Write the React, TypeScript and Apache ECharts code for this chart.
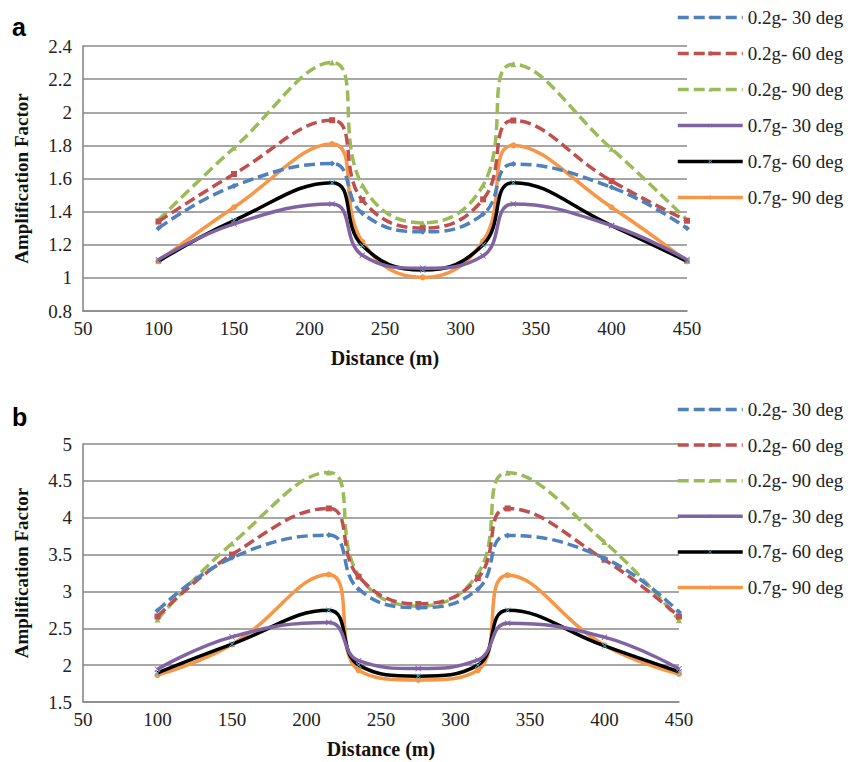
import React, { useEffect, useRef } from "react";
import * as echarts from "echarts";

const distances = [100, 150, 215, 235, 275, 315, 335, 400, 450];
const seriesNames = [
  "0.2g- 30 deg",
  "0.2g- 60 deg",
  "0.2g- 90 deg",
  "0.7g- 30 deg",
  "0.7g- 60 deg",
  "0.7g- 90 deg",
];

// Panel a
const a02g30 = [1.3, 1.555, 1.69, 1.39, 1.278, 1.385, 1.687, 1.547, 1.3];
const a02g60 = [1.34, 1.627, 1.952, 1.47, 1.3, 1.474, 1.95, 1.585, 1.345];
const a02g90 = [1.35, 1.785, 2.3, 1.56, 1.332, 1.56, 2.29, 1.78, 1.35];
const a07g30 = [1.11, 1.326, 1.446, 1.137, 1.058, 1.133, 1.446, 1.316, 1.11];
const a07g60 = [1.1, 1.346, 1.575, 1.195, 1.047, 1.2, 1.575, 1.316, 1.1];
const a07g90 = [1.1, 1.426, 1.808, 1.218, 1.003, 1.222, 1.8, 1.426, 1.1];

// Panel b
const b02g30 = [2.74, 3.456, 3.764, 3.03, 2.78, 3.03, 3.76, 3.45, 2.72];
const b02g60 = [2.66, 3.5, 4.126, 3.2, 2.83, 3.18, 4.126, 3.43, 2.66];
const b02g90 = [2.62, 3.65, 4.615, 3.22, 2.8, 3.24, 4.61, 3.67, 2.61];
const b07g30 = [1.944, 2.384, 2.58, 2.06, 1.953, 2.07, 2.57, 2.38, 1.95];
const b07g60 = [1.894, 2.284, 2.745, 2.0, 1.85, 2.0, 2.745, 2.26, 1.91];
const b07g90 = [1.863, 2.28, 3.23, 1.93, 1.8, 1.93, 3.22, 2.27, 1.88];

const xTicks = { min: 50, max: 450, interval: 50 };
const yTicksA = { min: 0.8, max: 2.4, interval: 0.2 };
const yTicksB = { min: 1.5, max: 5, interval: 0.5 };

const panelA = [a02g30, a02g60, a02g90, a07g30, a07g60, a07g90];
const panelB = [b02g30, b02g60, b02g90, b07g30, b07g60, b07g90];

const SERIF = "Liberation Serif, Times New Roman, serif";
const SANS = "Liberation Sans, Arial, sans-serif";
const X_SYMBOL =
  "path://M1,0L5,4L9,0L10,1L6,5L10,9L9,10L5,6L1,10L0,9L4,5L0,1Z";
const GRID_COLOR = "#8a8a8a";

const styles = [
  { line: "#4f81bd", marker: "#4f81bd", dashed: true, symbol: "diamond", size: 6 },
  { line: "#c0504d", marker: "#c0504d", dashed: true, symbol: "rect", size: 6 },
  { line: "#9bbb59", marker: "#9bbb59", dashed: true, symbol: "triangle", size: 6 },
  { line: "#8064a2", marker: "#8064a2", dashed: false, symbol: X_SYMBOL, size: 6 },
  { line: "#000000", marker: "#4bacc6", dashed: false, symbol: X_SYMBOL, size: 6 },
  { line: "#f79646", marker: "#f79646", dashed: false, symbol: "circle", size: 6 },
];

function buildSeries(data: number[][], idx: number) {
  return data.map((vals, i) => {
    const s = styles[i];
    return {
      name: seriesNames[i],
      type: "line",
      xAxisIndex: idx,
      yAxisIndex: idx,
      smooth: 0.45,
      data: distances.map((d, k) => [d, vals[k]]),
      symbol: s.symbol,
      symbolSize: s.size,
      showSymbol: true,
      itemStyle: { color: s.marker, borderWidth: 0 },
      lineStyle: {
        color: s.line,
        width: 3.5,
        type: s.dashed ? [11, 5] : "solid",
        cap: "butt",
      },
      z: 10 - i,
    };
  });
}

function makeYAxis(gridIndex: number, t: { min: number; max: number; interval: number }) {
  return {
    type: "value",
    gridIndex,
    min: t.min,
    max: t.max,
    interval: t.interval,
    name: "Amplification Factor",
    nameLocation: "middle",
    nameGap: 52,
    nameTextStyle: {
      fontFamily: SERIF,
      fontWeight: "bold",
      fontSize: 19,
      color: "#111",
    },
    axisLine: { show: true, lineStyle: { color: GRID_COLOR, width: 1.6 } },
    axisTick: { show: false },
    axisLabel: {
      fontFamily: SERIF,
      fontSize: 19,
      color: "#222",
      margin: 11,
      formatter: (v: number) => String(Math.round(v * 10) / 10),
    },
    splitLine: { show: true, lineStyle: { color: GRID_COLOR, width: 1.6 } },
  };
}

function makeXAxis(gridIndex: number) {
  return {
    type: "value",
    gridIndex,
    min: xTicks.min,
    max: xTicks.max,
    interval: xTicks.interval,
    name: "Distance (m)",
    nameLocation: "middle",
    nameGap: 37,
    nameTextStyle: {
      fontFamily: SERIF,
      fontWeight: "bold",
      fontSize: 20,
      color: "#111",
    },
    axisLine: { show: true, onZero: false, lineStyle: { color: GRID_COLOR, width: 1.6 } },
    axisTick: { show: false },
    axisLabel: { fontFamily: SERIF, fontSize: 19, color: "#222", margin: 8 },
    splitLine: { show: false },
  };
}

function makeLegend(top: number, gap: number) {
  return {
    orient: "vertical",
    left: 676,
    top,
    padding: 0,
    itemWidth: 65,
    itemHeight: 5,
    itemGap: gap,
    selectedMode: false,
    data: seriesNames,
    lineStyle: { width: 3.5 },
    textStyle: {
      fontFamily: SERIF,
      fontSize: 19,
      color: "#222",
      lineHeight: 21,
      padding: [0, 0, 0, 0],
    },
  };
}

export default function App() {
  const ref = useRef<HTMLDivElement>(null);
  useEffect(() => {
    if (!ref.current) return;
    const chart = echarts.init(ref.current, undefined, { renderer: "svg" });
    chart.setOption({
      animation: false,
      backgroundColor: "#ffffff",
      textStyle: { fontFamily: SERIF },
      grid: [
        { left: 83, top: 46, width: 604, height: 265 },
        { left: 83, top: 444, width: 596, height: 258 },
      ],
      xAxis: [makeXAxis(0), makeXAxis(1)],
      yAxis: [makeYAxis(0, yTicksA), makeYAxis(1, yTicksB)],
      legend: [makeLegend(7, 15), makeLegend(399, 14.6)],
      graphic: [
        {
          type: "text",
          left: 12,
          top: 14,
          style: {
            text: "a",
            fontFamily: SANS,
            fontWeight: "bold",
            fontSize: 25,
            fill: "#000",
          },
        },
        {
          type: "text",
          left: 12,
          top: 404,
          style: {
            text: "b",
            fontFamily: SANS,
            fontWeight: "bold",
            fontSize: 25,
            fill: "#000",
          },
        },
      ],
      series: [...buildSeries(panelA, 0), ...buildSeries(panelB, 1)],
    });
    return () => chart.dispose();
  }, []);
  return (
    <div
      ref={ref}
      style={{ position: "absolute", left: 0, top: 0, width: 859, height: 762 }}
    />
  );
}
